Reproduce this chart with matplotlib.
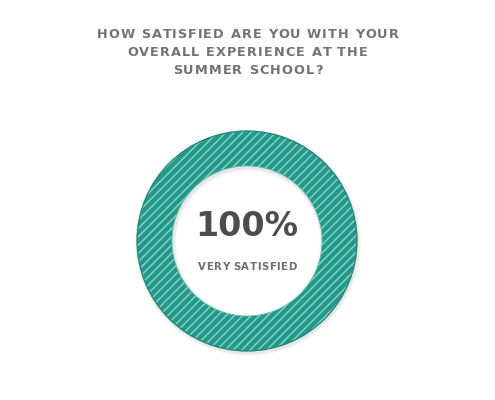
import matplotlib
matplotlib.use("Agg")
import matplotlib.pyplot as plt
from matplotlib.patches import Wedge, Circle

# data
categories = ["Very satisfied"]
shares = [100]
title_lines = ["HOW SATISFIED ARE YOU WITH YOUR", "OVERALL EXPERIENCE AT THE", "SUMMER SCHOOL?"]
big_label = "100%"
small_label = "VERY SATISFIED"

W, H = 495, 400
fig = plt.figure(figsize=(W / 100, H / 100), dpi=100)
fig.patch.set_facecolor("white")
ax = fig.add_axes([0, 0, 1, 1])
ax.set_xlim(0, W)
ax.set_ylim(H, 0)
ax.set_aspect("equal")
ax.axis("off")

plt.rcParams["hatch.linewidth"] = 1.1

cx, cy, r_out, ring = 247, 241, 110, 35

# soft shadow, only behind the ring
for k in range(3):
    ax.add_patch(Wedge((cx + 1, cy + 2), r_out + 1 + k, 0, 360, width=ring + 2 + 2 * k,
                       color="black", alpha=0.03, lw=0))

wedges, _ = ax.pie(shares, center=(cx, cy), radius=r_out, startangle=90,
                   colors=["#24988a"],
                   wedgeprops=dict(width=ring, edgecolor="#80d2c3", linewidth=0, hatch="////"))
# outline of the ring
ax.add_patch(Circle((cx, cy), r_out, fill=False, ec="#1f8677", lw=0.9))
ax.add_patch(Circle((cx, cy), r_out - ring, fill=False, ec="#6cbfb2", lw=0.5))
ax.set_xlim(0, W)
ax.set_ylim(H, 0)


def spaced_text(x, y, s, size, color, spacing, weight="bold"):
    # matplotlib has no letter-spacing, so place the characters one by one
    r = fig.canvas.get_renderer()
    widths = [0]
    for i in range(1, len(s) + 1):
        t = fig.text(0, 0, s[:i], fontsize=size, weight=weight)
        widths.append(t.get_window_extent(r).width)
        t.remove()
    total = widths[-1] + spacing * (len(s) - 1)
    x0 = x - total / 2
    for i, ch in enumerate(s):
        if ch == " ":
            continue
        fig.text((x0 + widths[i] + spacing * i) / W, 1 - y / H, ch, fontsize=size,
                 weight=weight, color=color, ha="left", va="center")


for i, line in enumerate(title_lines):
    spaced_text(247.5, 34 + i * 18.5, line, 9.3, "#737373", 1.1)

ax.text(cx, 226, big_label, fontsize=24, weight="bold", color="#4d4d4d",
        ha="center", va="center")
spaced_text(247, 267, small_label, 7.3, "#6e6e6e", 0.6)

fig.savefig("out.png", dpi=100, facecolor="white")
